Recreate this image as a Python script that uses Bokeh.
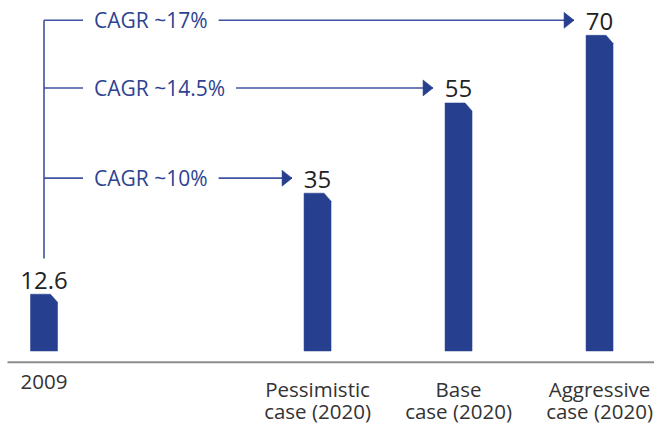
from bokeh.plotting import figure
from bokeh.models import Range1d
from bokeh.core.properties import value
from bokeh.embed import file_html
from bokeh.resources import INLINE

# ---- data ----
categories = ["2009", "Pessimistic\ncase (2020)", "Base\ncase (2020)", "Aggressive\ncase (2020)"]
values = [12.6, 35, 55, 70]
value_labels = ["12.6", "35", "55", "70"]
cagr_labels = ["CAGR ~10%", "CAGR ~14.5%", "CAGR ~17%"]

# ---- layout (style) ----
W, H = 654, 425
px_x = 141.0          # pixels per x unit
px_y = 4.51           # pixels per y unit
gap = 1.94            # gap between 2009 and the 2020 cases (x units)
xs = [0.0] + [gap + i for i in range(3)]

bar_w = 27 / px_x
cham_x = 7 / px_x
cham_y = 8 / px_y

BAR = "#263f8e"
LINE = "#3f53a0"
TXT_BLUE = "#2d4391"
FONT = value("Open Sans")

x0 = -43.5 / px_x
y0 = -(H - 350.5) / px_y
p = figure(width=W, height=H, output_backend="svg", toolbar_location=None,
           x_range=Range1d(x0, x0 + W / px_x), y_range=Range1d(y0, y0 + H / px_y),
           min_border=0, outline_line_color=None)
p.axis.visible = False
p.grid.visible = False
p.background_fill_color = "white"

# bars with chamfered top-right corner
bx, by = [], []
for x, v in zip(xs, values):
    l, r = x - bar_w / 2, x + bar_w / 2
    bx.append([l, l, r - cham_x, r, r])
    by.append([0, v, v, v - cham_y, 0])
p.patches(bx, by, fill_color=BAR, line_color=BAR, line_width=0.5)

# baseline
ax_y = -11.2 / px_y
p.segment(x0=[x0 + 7 / px_x], y0=[ax_y], x1=[x0 + W / px_x], y1=[ax_y],
          line_color="#8c8c8c", line_width=2)

# value labels
p.text(x=xs, y=values, text=value_labels, text_align="center", text_baseline="alphabetic",
       y_offset=-14, text_font=FONT, text_font_size="24px", text_color="#222222")

# category labels (two lines)
line1 = [c.split("\n")[0] for c in categories]
line2 = [c.split("\n")[1] if "\n" in c else "" for c in categories]
p.text(x=xs, y=[ax_y] * 4, text=line1, text_align="center", text_baseline="top",
       y_offset=13, text_font=FONT, text_font_size="20.5px", text_color="#333333")
p.text(x=xs, y=[ax_y] * 4, text=line2, text_align="center", text_baseline="top",
       y_offset=35, text_font=FONT, text_font_size="20.5px", text_color="#333333")

# CAGR arrows
off = 15 / px_y
arrow_y = [v + off for v in values[1:]]
tips = [x - bar_w / 2 - 12 / px_x for x in xs[1:]]
p.segment(x0=[xs[0]] * 3, y0=arrow_y, x1=tips, y1=arrow_y, line_color=LINE, line_width=1.6)
p.segment(x0=[xs[0]], y0=[values[0] + 7.9], x1=[xs[0]], y1=[max(arrow_y)],
          line_color=LINE, line_width=1.6)
ah_x, ah_y = [], []
for t, y in zip(tips, arrow_y):
    ah_x.append([t, t - 10 / px_x, t - 10 / px_x])
    ah_y.append([y, y + 8 / px_y, y - 8 / px_y])
p.patches(ah_x, ah_y, fill_color=BAR, line_color=BAR, line_width=0.5)

p.text(x=[xs[0] + 39 / px_x] * 3, y=arrow_y, text=cagr_labels, text_align="left",
       text_baseline="middle", text_font=FONT, text_font_size="21px",
       text_color=TXT_BLUE, background_fill_color="white", padding=[11, 11, 0, 0])

open("out.html", "w").write(file_html(p, INLINE))
